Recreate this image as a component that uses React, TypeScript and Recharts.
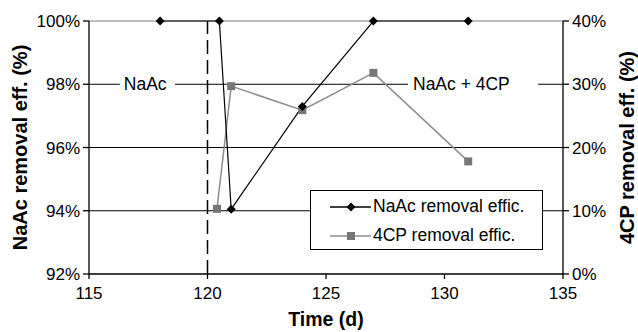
import {
  ComposedChart, Line, XAxis, YAxis, CartesianGrid,
  ReferenceLine, ReferenceArea, Legend,
} from 'recharts'

// time axis (d)
const dayTicks = [115, 120, 125, 130, 135]
const phaseChangeDay = 120

// NaAc removal efficiency (%), left axis
const naacDays = [118, 120.5, 121, 124, 127, 131]
const naacEff = [100, 100, 94.05, 97.3, 100, 100]
const naacTicks = [92, 94, 96, 98, 100]
const naacGrid = [94, 96, 98]

// 4CP removal efficiency (%), right axis
const cpDays = [120.4, 121, 124, 127, 131]
const cpEff = [10.3, 29.7, 25.9, 31.8, 17.8]
const cpTicks = [0, 10, 20, 30, 40]

const naacData = naacDays.map((t, i) => ({ t, v: naacEff[i] }))
const cpData = cpDays.map((t, i) => ({ t, v: cpEff[i] }))

const FONT = '"Liberation Sans", Arial, sans-serif'
const CP_LINE = '#8c8c8c'
const CP_MARK = '#767676'

const pct = (v: number) => `${v}%`

function Diamond(props: any) {
  const { cx, cy, index } = props
  if (cx == null || cy == null) return null
  return (
    <path
      key={`naac-${index}`}
      d={`M${cx} ${cy - 4.5}L${cx + 4.5} ${cy}L${cx} ${cy + 4.5}L${cx - 4.5} ${cy}Z`}
      fill="#000"
    />
  )
}

function Square(props: any) {
  const { cx, cy, index } = props
  if (cx == null || cy == null) return null
  return <rect key={`cp-${index}`} x={cx - 4} y={cy - 4} width={8} height={8} fill={CP_MARK} />
}

function LegendBox() {
  const rows = [
    { name: 'NaAc removal effic.', color: '#000', marker: 'diamond' },
    { name: '4CP removal effic.', color: CP_LINE, marker: 'square' },
  ]
  return (
    <div
      style={{
        width: 231, height: 58, border: '1px solid #000', background: '#fff',
        fontFamily: FONT, fontSize: 17.5, color: '#000', boxSizing: 'content-box',
      }}
    >
      {rows.map((r, i) => (
        <div key={r.name} style={{ display: 'flex', alignItems: 'center', height: 29, marginTop: i === 0 ? 1 : 0 }}>
          <svg width={62} height={14} style={{ flex: 'none' }}>
            <line x1={19} x2={60} y1={7} y2={7} stroke={r.color} strokeWidth={1.3} />
            {r.marker === 'diamond'
              ? <path d="M40 2.5L44.5 7L40 11.5L35.5 7Z" fill="#000" />
              : <rect x={36} y={3} width={8} height={8} fill={CP_MARK} />}
          </svg>
          <span>{r.name}</span>
        </div>
      ))}
    </div>
  )
}

export default function App() {
  return (
    <div style={{ position: 'absolute', left: 0, top: 0, width: 638, height: 332, background: '#fff' }}>
      <ComposedChart
        width={638}
        height={332}
        margin={{ top: 21, right: 0, bottom: 0, left: 0 }}
        style={{ fontFamily: FONT }}
      >
        <CartesianGrid
          yAxisId="left"
          vertical={false}
          horizontalValues={naacGrid}
          stroke="#000"
          strokeWidth={1.2}
        />
        <XAxis
          type="number"
          dataKey="t"
          domain={[115, 135]}
          ticks={dayTicks}
          allowDuplicatedCategory={false}
          height={58}
          stroke="#000"
          strokeWidth={1.3}
          tickSize={5}
          tickMargin={8}
          tick={{ fill: '#000', fontSize: 17 }}
          label={{ value: 'Time (d)', position: 'insideBottom', offset: 6, fill: '#000', fontSize: 19.5, fontWeight: 'bold' }}
        />
        <YAxis
          yAxisId="left"
          orientation="left"
          type="number"
          domain={[92, 100]}
          ticks={naacTicks}
          tickFormatter={pct}
          width={89}
          stroke="#000"
          strokeWidth={1.3}
          tickSize={6}
          tickMargin={3}
          tick={{ fill: '#000', fontSize: 17 }}
          label={{ value: 'NaAc removal eff. (%)', angle: -90, position: 'center', dx: -25, fill: '#000', fontSize: 20, fontWeight: 'bold' }}
        />
        <YAxis
          yAxisId="right"
          orientation="right"
          type="number"
          domain={[0, 40]}
          ticks={cpTicks}
          tickFormatter={pct}
          width={75}
          stroke="#000"
          strokeWidth={1.3}
          tickSize={6}
          tickMargin={3}
          tick={{ fill: '#000', fontSize: 17 }}
          label={{ value: '4CP removal eff. (%)', angle: -90, position: 'center', dx: 26, fill: '#000', fontSize: 20, fontWeight: 'bold' }}
        />
        <ReferenceLine yAxisId="left" y={100} stroke="#a8a8a8" strokeWidth={1.3} />
        <ReferenceLine yAxisId="left" x={phaseChangeDay} stroke="#000" strokeWidth={1.5} strokeDasharray="14 6" />
        <ReferenceArea
          yAxisId="left"
          x1={116.3}
          x2={118.63}
          y1={97.7}
          y2={98.3}
          fill="#fff"
          fillOpacity={1}
          stroke="none"
          label={{ value: 'NaAc', position: 'insideLeft', offset: 4, fill: '#000', fontSize: 17.5 }}
        />
        <ReferenceArea
          yAxisId="left"
          x1={128.46}
          x2={133.95}
          y1={97.7}
          y2={98.3}
          fill="#fff"
          fillOpacity={1}
          stroke="none"
          label={{ value: 'NaAc + 4CP', position: 'insideLeft', offset: 5, fill: '#000', fontSize: 17.5 }}
        />
        <Line
          yAxisId="right"
          data={cpData}
          dataKey="v"
          name="4CP removal effic."
          type="linear"
          stroke={CP_LINE}
          strokeWidth={1.5}
          dot={Square}
          activeDot={false}
          isAnimationActive={false}
        />
        <Line
          yAxisId="left"
          data={naacData}
          dataKey="v"
          name="NaAc removal effic."
          type="linear"
          stroke="#000"
          strokeWidth={1.2}
          dot={Diamond}
          activeDot={false}
          isAnimationActive={false}
        />
        <Legend
          layout="vertical"
          align="center"
          verticalAlign="middle"
          content={() => <LegendBox />}
          wrapperStyle={{ left: 310, top: 190, width: 233, height: 60 }}
        />
      </ComposedChart>
    </div>
  )
}
